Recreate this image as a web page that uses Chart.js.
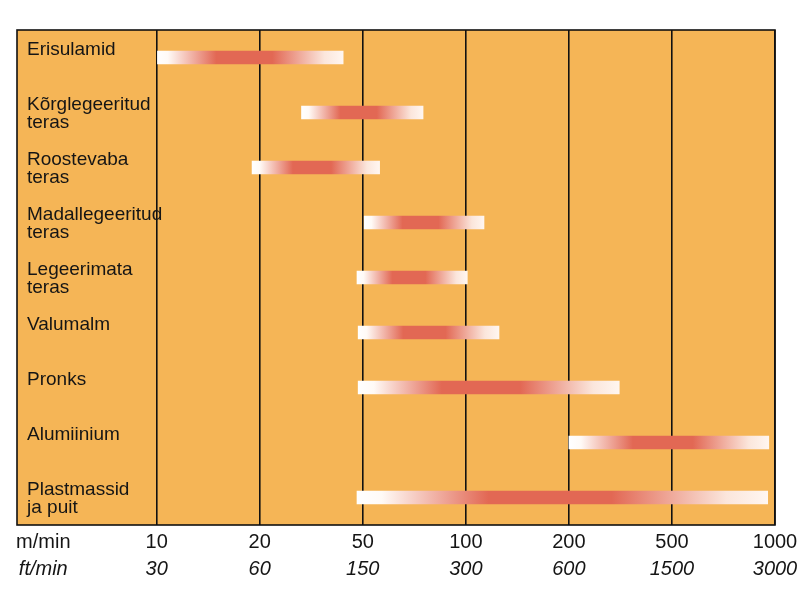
<!DOCTYPE html>
<html>
<head>
<meta charset="utf-8">
<script src="https://cdn.jsdelivr.net/npm/chart.js@4/dist/chart.umd.min.js"></script>
<style>
    html, body { margin: 0; padding: 0; background: #ffffff; }
    #wrap { width: 800px; height: 600px; }
</style>
</head>
<body>
<div id="wrap"><canvas id="speed-chart" width="800" height="600"></canvas></div>
<script>
// materials (single-line names get an empty second line so they sit high in the row)
var materials = [
    ['Erisulamid', ''],
    ['Kõrglegeeritud', 'teras'],
    ['Roostevaba', 'teras'],
    ['Madallegeeritud', 'teras'],
    ['Legeerimata', 'teras'],
    ['Valumalm', ''],
    ['Pronks', ''],
    ['Alumiinium', ''],
    ['Plastmassid', 'ja puit']
];

// cutting speed range, m/min
var speedMin = [10, 29, 19, 50.5, 47.5, 48, 48, 200, 47.5];
var speedMax = [42, 75, 56, 113, 101, 125, 313, 959, 952];

// axis ticks (drawn equally spaced)
var metricTicks = [10, 20, 50, 100, 200, 500, 1000];
var imperialTicks = [30, 60, 150, 300, 600, 1500, 3000];
var metricUnit = 'm/min';
var imperialUnit = 'ft/min';

var unitPos = -1.1;
var axisMin = -1.355;
var axisMax = metricTicks.length - 1;

// position of a speed on the equally spaced tick grid (log inside each step)
function toPos(v) {
    for (var i = 0; i < metricTicks.length - 1; i++) {
        var a = metricTicks[i], b = metricTicks[i + 1];
        if (v <= b || i === metricTicks.length - 2) {
            return i + Math.log(v / a) / Math.log(b / a);
        }
    }
}

var ranges = speedMin.map(function (v, i) {
    return [toPos(v), toPos(speedMax[i])];
});

var tickPositions = [unitPos];
for (var i = 0; i < metricTicks.length; i++) tickPositions.push(i);

function setTicks(scale) {
    scale.ticks = tickPositions.map(function (v) { return { value: v }; });
}

// let the tick labels hang outside the plot instead of shrinking it
function noOverhang(scale) {
    scale.paddingLeft = 0;
    scale.paddingRight = 0;
}

var RED = 'rgb(226,104,84)';

function barColor(context) {
    var chart = context.chart;
    var x = chart.scales && chart.scales.x;
    if (!x || !context.raw) return RED;
    var x0 = x.getPixelForValue(context.raw[0]);
    var x1 = x.getPixelForValue(context.raw[1]);
    if (!isFinite(x0) || !isFinite(x1) || x1 <= x0) return RED;
    var g = chart.ctx.createLinearGradient(x0, 0, x1, 0);
    g.addColorStop(0, '#ffffff');
    g.addColorStop(0.06, '#fffaf6');
    g.addColorStop(0.32, RED);
    g.addColorStop(0.62, RED);
    g.addColorStop(0.9, '#fbe6dc');
    g.addColorStop(1, '#fff6f0');
    return g;
}

var plotFrame = {
    id: 'plotFrame',
    beforeDraw: function (chart) {
        var a = chart.chartArea;
        var ctx = chart.ctx;
        ctx.save();
        ctx.fillStyle = '#f5b556';
        ctx.fillRect(a.left, a.top, a.right - a.left, a.bottom - a.top);
        ctx.restore();
    },
    afterDraw: function (chart) {
        var a = chart.chartArea;
        var ctx = chart.ctx;
        ctx.save();
        ctx.strokeStyle = '#111111';
        ctx.lineWidth = 1.6;
        ctx.strokeRect(a.left, a.top, a.right - a.left, a.bottom - a.top);
        ctx.restore();
    }
};

var family = '"Liberation Sans", Arial, sans-serif';

new Chart(document.getElementById('speed-chart'), {
    type: 'bar',
    data: {
        labels: materials,
        datasets: [{
            data: ranges,
            backgroundColor: barColor,
            borderWidth: 0,
            borderSkipped: false,
            barThickness: 13
        }]
    },
    options: {
        indexAxis: 'y',
        responsive: false,
        animation: false,
        layout: {
            padding: { left: 17, top: 30, right: 25, bottom: 21 }
        },
        scales: {
            y: {
                type: 'category',
                afterFit: function (scale) { scale.width = 0; },
                grid: { display: false },
                border: { display: false },
                ticks: {
                    mirror: true,
                    padding: 10,
                    labelOffset: 1,
                    color: '#151515',
                    font: { family: family, size: 19, lineHeight: 0.97 }
                }
            },
            x: {
                type: 'linear',
                position: 'bottom',
                min: axisMin,
                max: axisMax,
                z: 1,
                afterBuildTicks: setTicks,
                afterFit: noOverhang,
                grid: {
                    drawTicks: false,
                    lineWidth: 1.6,
                    color: function (ctx) {
                        return ctx.tick && ctx.tick.value === unitPos ? 'rgba(0,0,0,0)' : '#111111';
                    }
                },
                border: { display: false },
                ticks: {
                    autoSkip: false,
                    maxRotation: 0,
                    padding: 8,
                    color: '#151515',
                    font: { family: family, size: 20, lineHeight: 0.95 },
                    callback: function (value) {
                        return value === unitPos ? metricUnit : metricTicks[value];
                    }
                }
            },
            x2: {
                type: 'linear',
                position: 'bottom',
                min: axisMin,
                max: axisMax,
                afterBuildTicks: setTicks,
                afterFit: noOverhang,
                grid: { display: false, drawTicks: false },
                border: { display: false },
                ticks: {
                    autoSkip: false,
                    maxRotation: 0,
                    padding: 0,
                    color: '#151515',
                    font: { family: family, size: 20, style: 'italic', lineHeight: 0.95 },
                    callback: function (value) {
                        return value === unitPos ? imperialUnit : imperialTicks[value];
                    }
                }
            }
        },
        plugins: {
            legend: { display: false },
            tooltip: { enabled: false }
        }
    },
    plugins: [plotFrame]
});
</script>
</body>
</html>
